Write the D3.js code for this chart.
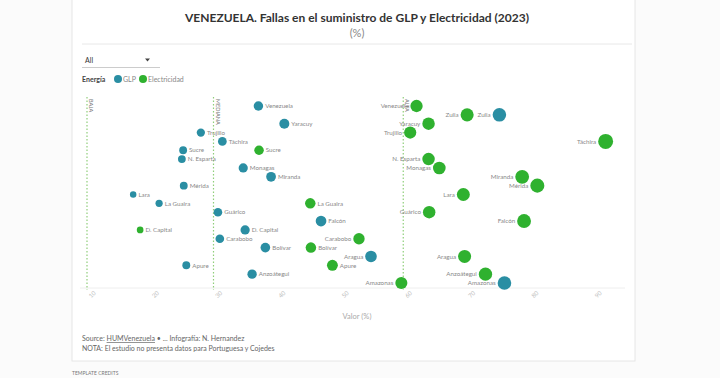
<!DOCTYPE html>
<html>
<head>
<meta charset="utf-8">
<script src="https://cdn.jsdelivr.net/npm/d3@7"></script>
<style>
  body { margin: 0; background: #fbfbfb; font-family: Lato, "Open Sans", sans-serif; }
  #chart { position: absolute; left: 0; top: 0; }
</style>
</head>
<body>
<div id="chart"></div>
<script>
// estados, de arriba hacia abajo
const states = ["Venezuela", "Zulia", "Yaracuy", "Trujillo", "Táchira", "Sucre", "N. Esparta", "Monagas",
    "Miranda", "Mérida", "Lara", "La Guaira", "Guárico", "Falcón", "D. Capital", "Carabobo", "Bolívar",
    "Aragua", "Apure", "Anzoátegui", "Amazonas"];

// fallas (%) por estado, mismo orden
const glp = [37.1, 75.2, 41.2, 28.0, 31.4, 25.2, 25.0, 34.7, 39.1, 25.3, 17.3, 21.4, 30.7, 47.0, 35.0,
    31.0, 38.2, 54.9, 25.7, 36.1, 76.0];
const electricidad = [62.1, 70.1, 64.0, 61.1, 92.0, 37.2, 64.0, 65.7, 78.8, 81.2, 69.5, 45.3, 64.1,
    79.1, 18.4, 53.0, 45.4, 69.7, 48.8, 73.0, 59.7];

const ticks = [10, 20, 30, 40, 50, 60, 70, 80, 90];
const refLines = [{label: "BAJA", value: 10}, {label: "MEDIANA", value: 30}, {label: "ALTA", value: 60}];

const colors = {GLP: "#2a8ea3", Electricidad: "#2fb12f"};

const width = 720, height = 378;

const svg = d3.select("#chart").append("svg")
    .attr("width", width)
    .attr("height", height);

// tarjeta
svg.append("rect")
    .attr("x", 72).attr("y", -2)
    .attr("width", 563).attr("height", 363)
    .attr("fill", "#fff")
    .attr("stroke", "#e6e6e6");

svg.append("text")
    .attr("x", 72).attr("y", 375)
    .attr("font-size", 5).attr("fill", "#777")
    .text("TEMPLATE CREDITS");

// titulo
svg.append("text")
    .attr("x", 357).attr("y", 22)
    .attr("text-anchor", "middle")
    .attr("font-size", 12).attr("font-weight", "bold").attr("fill", "#333")
    .text("VENEZUELA. Fallas en el suministro de GLP y Electricidad (2023)");

svg.append("text")
    .attr("x", 357).attr("y", 37)
    .attr("text-anchor", "middle")
    .attr("font-size", 11).attr("fill", "#888")
    .text("(%)");

svg.append("line")
    .attr("x1", 82).attr("x2", 632).attr("y1", 44).attr("y2", 44)
    .attr("stroke", "#e8e8e8");

// selector
svg.append("text")
    .attr("x", 85).attr("y", 63)
    .attr("font-size", 7).attr("fill", "#333")
    .text("All");
svg.append("path")
    .attr("d", "M145,58.5 L150,58.5 L147.5,61.5 Z")
    .attr("fill", "#444");
svg.append("line")
    .attr("x1", 82).attr("x2", 160).attr("y1", 67.5).attr("y2", 67.5)
    .attr("stroke", "#ccc");

// leyenda
const legend = svg.append("g").attr("transform", "translate(82,79)");
legend.append("text")
    .attr("y", 2.5)
    .attr("font-size", 7).attr("font-weight", "bold").attr("fill", "#444")
    .text("Energía");
legend.append("circle").attr("cx", 36).attr("r", 4).attr("fill", colors.GLP);
legend.append("text").attr("x", 41).attr("y", 2.5).attr("font-size", 7).attr("fill", "#888").text("GLP");
legend.append("circle").attr("cx", 61).attr("r", 4).attr("fill", colors.Electricidad);
legend.append("text").attr("x", 66).attr("y", 2.5).attr("font-size", 7).attr("fill", "#888").text("Electricidad");

// escalas
const x = d3.scaleLinear().domain([10, 90]).range([87, 593]);
const y = d3.scalePoint().domain(states).range([106, 283]);
const r = d3.scaleSqrt().domain([0, 100]).range([0, 7.8]);

// eje x
const xAxis = svg.append("g")
    .attr("transform", "translate(0,288)")
    .call(d3.axisBottom(x).tickValues(ticks).tickSize(0).tickPadding(7));
xAxis.select(".domain").attr("stroke", "#eee").attr("d", "M80,0H625");
xAxis.selectAll("text")
    .attr("font-size", 6).attr("fill", "#bbb")
    .attr("font-family", "Lato, sans-serif")
    .attr("transform", "rotate(-45)")
    .attr("dy", "0.5em").attr("dx", "-0.2em");

svg.append("text")
    .attr("x", 357).attr("y", 319)
    .attr("text-anchor", "middle")
    .attr("font-size", 7.5).attr("fill", "#aaa")
    .text("Valor (%)");

// lineas de referencia
const refs = svg.selectAll(".ref")
    .data(refLines)
    .enter().append("g")
    .attr("class", "ref")
    .attr("transform", d => `translate(${x(d.value)},0)`);

refs.append("line")
    .attr("y1", 97).attr("y2", 290)
    .attr("stroke", "#8fce7a")
    .attr("stroke-width", 1.2)
    .attr("stroke-dasharray", "1.5,2");

refs.append("text")
    .attr("transform", "translate(2,99) rotate(90)")
    .attr("font-size", 5.5).attr("fill", "#777")
    .text(d => d.label);

// puntos
const points = [];
states.forEach((s, i) => {
    points.push({state: s, serie: "GLP", value: glp[i]});
    points.push({state: s, serie: "Electricidad", value: electricidad[i]});
});

const dots = svg.selectAll(".dot")
    .data(points)
    .enter().append("g")
    .attr("class", "dot")
    .attr("transform", d => `translate(${x(d.value)},${y(d.state)})`);

dots.append("circle")
    .attr("r", d => r(d.value))
    .attr("fill", d => colors[d.serie]);

// etiqueta a la izquierda si el valor pasa de 50
dots.append("text")
    .attr("x", d => d.value > 50 ? -(r(d.value) + 2) : r(d.value) + 2)
    .attr("y", 2.2)
    .attr("text-anchor", d => d.value > 50 ? "end" : "start")
    .attr("font-size", 6.2).attr("fill", "#888")
    .text(d => d.state);

// fuente
const source = svg.append("text")
    .attr("x", 82).attr("y", 341)
    .attr("font-size", 7).attr("fill", "#666");
source.append("tspan").text("Source: ");
source.append("tspan").attr("text-decoration", "underline").text("HUMVenezuela");
source.append("tspan").text(" • ... Infografía: N. Hernandez");

svg.append("text")
    .attr("x", 82).attr("y", 351)
    .attr("font-size", 7).attr("fill", "#666")
    .text("NOTA: El estudio no presenta datos para Portuguesa y Cojedes");
</script>
</body>
</html>
